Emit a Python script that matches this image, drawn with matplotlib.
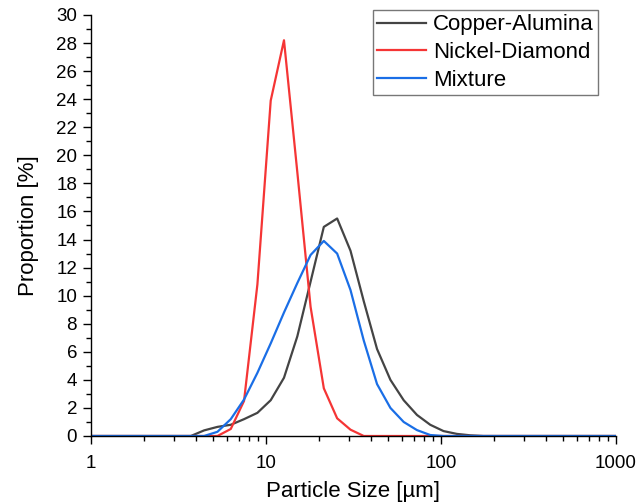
import matplotlib
matplotlib.use("Agg")
import matplotlib.pyplot as plt
from matplotlib.ticker import MultipleLocator, LogLocator, NullFormatter, FixedLocator

plt.rcParams["font.family"] = ["Liberation Sans", "DejaVu Sans"]

# particle size bins [um]
sizes = [1.0, 3.72, 4.43, 5.28, 6.29, 7.49, 8.93, 10.64, 12.67, 15.1, 17.98,
         21.4, 25.5, 30.4, 36.2, 43.1, 51.4, 61.2, 72.9, 86.8, 103.4,
         123.2, 146.8, 174.9, 1000.0]

copper_alumina = [0, 0, 0.4, 0.65, 0.8, 1.2, 1.65, 2.55, 4.15, 7.1, 11.0,
                  14.9, 15.5, 13.2, 9.6, 6.2, 4.0, 2.55, 1.5, 0.8, 0.35,
                  0.15, 0.05, 0, 0]
nickel_diamond = [0, 0, 0, 0, 0.5, 2.5, 10.8, 23.9, 28.2, 18.8, 9.2,
                  3.4, 1.26, 0.45, 0, 0, 0, 0, 0, 0, 0,
                  0, 0, 0, 0]
mixture = [0, 0, 0, 0.3, 1.2, 2.6, 4.5, 6.6, 8.8, 10.9, 12.9,
           13.9, 13.0, 10.4, 6.8, 3.7, 2.0, 1.0, 0.42, 0.07, 0,
           0, 0, 0, 0]

series = [("Copper-Alumina", copper_alumina, "#444444"),
          ("Nickel-Diamond", nickel_diamond, "#f53535"),
          ("Mixture", mixture, "#1a6ee6")]

fig = plt.figure(figsize=(6.43, 5.03), dpi=100)
ax = fig.add_axes([91 / 643, 1 - 436 / 503, 525 / 643, 421 / 503])

for name, vals, col in series:
    ax.plot(sizes, vals, color=col, lw=1.6, label=name)

ax.set_xscale("log")
ax.set_xlim(1, 1000)
ax.set_ylim(0, 30)
ax.xaxis.set_major_locator(FixedLocator([1, 10, 100, 1000]))
ax.set_xticklabels(["1", "10", "100", "1000"])
ax.xaxis.set_minor_locator(LogLocator(base=10, subs=range(2, 10)))
ax.xaxis.set_minor_formatter(NullFormatter())
ax.yaxis.set_major_locator(MultipleLocator(2))
ax.yaxis.set_minor_locator(MultipleLocator(1))

for s in ["top", "right"]:
    ax.spines[s].set_visible(False)
for s in ["left", "bottom"]:
    ax.spines[s].set_linewidth(1.0)
ax.tick_params(which="major", direction="out", length=6, width=1, labelsize=13.5)
ax.tick_params(which="minor", direction="out", length=3.5, width=1)
ax.tick_params(axis="x", which="major", pad=8)
ax.tick_params(axis="y", which="major", pad=4)

ax.set_xlabel("Particle Size [µm]", fontsize=16, labelpad=6)
ax.set_ylabel("Proportion [%]", fontsize=16, labelpad=12)

leg = ax.legend(loc="upper right", bbox_to_anchor=(598 / 643, 1 - 10 / 503),
                bbox_transform=fig.transFigure, borderaxespad=0,
                fontsize=16, frameon=True, fancybox=False,
                handlelength=2.2, handletextpad=0.3, labelspacing=0.3,
                borderpad=0.2)
leg.get_frame().set_edgecolor("#555555")
leg.get_frame().set_linewidth(1.0)

fig.savefig("out.png", dpi=100)
